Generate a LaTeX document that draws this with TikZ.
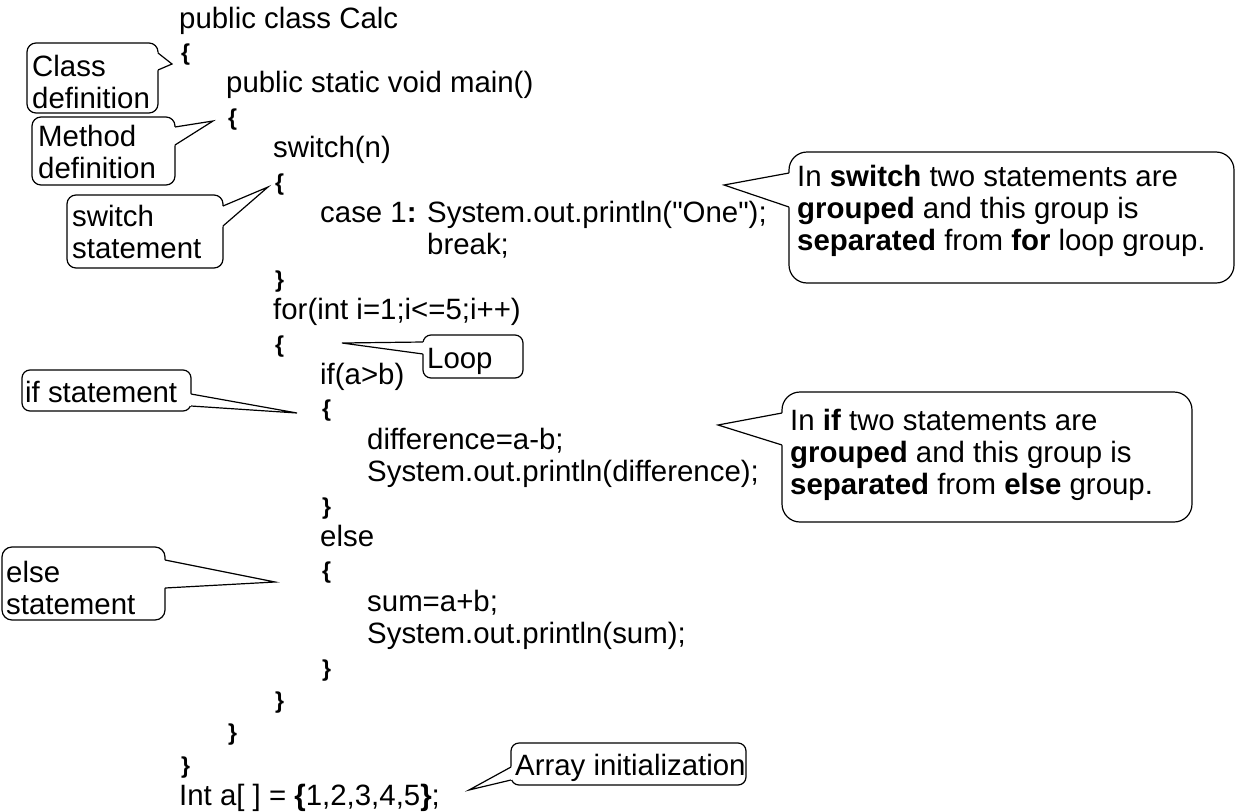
\documentclass[tikz,border=0pt]{standalone}
\usepackage{fontspec}
\setmainfont{Liberation Sans}[Ligatures=TeXOff]
\usetikzlibrary{calc}
\newcommand\codefont{\fontsize{29.4}{32.4}\selectfont}
\newcommand\bracefont{\fontsize{23}{32.4}\selectfont\bfseries}
\tikzset{
  code/.style={anchor=base west, inner sep=0pt, font=\codefont},
  brace/.style={anchor=base west, inner sep=0pt, font=\bracefont},
  note/.style={anchor=base west, inner sep=0pt, font=\codefont},
  bubbleline/.style={draw=black, line width=1.2pt},
}
% rounded box with a pointed tail: corner, corner, radius, tail base 1, tail base 2, tip
\newcommand\bubble[6]{%
  \draw[bubbleline, rounded corners=#3] #1 rectangle #2;
  \fill[white] ($#4!-1.6pt!#6$) -- #6 -- ($#5!-1.6pt!#6$) -- cycle;
  \draw[bubbleline, line join=miter] #4 -- #6 -- #5;
}
\begin{document}
\begin{tikzpicture}[x=1pt, y=-1pt]
\useasboundingbox (0,0) rectangle (1239,811);

% ---- program text ----
\node[code]  (l0)  at (179,28)    {public class Calc};
\node[brace] (l1)  at (181,60.4)  {\{};
\node[code]  (l2)  at (226,92.8)  {public static void main()};
\node[brace] (l3)  at (228,125.2) {\{};
\node[code]  (l4)  at (273,157.6) {switch(n)};
\node[brace] (l5)  at (275,190)   {\{};
\node[code]  (l6)  at (320,222.4) {case 1\textbf{:}};
\node[code]  (l6b) at (427,222.4) {System.out.println("One");};
\node[code]  (l7)  at (427,254.8) {break;};
\node[brace] (l8)  at (275,287.2) {\}};
\node[code]  (l9)  at (273,319.6) {for(int i=1;i<=5;i++)};
\node[brace] (l10) at (275,352)   {\{};
\node[code]  (l11) at (320,384.4) {if(a>b)};
\node[brace] (l12) at (322,416.8) {\{};
\node[code]  (l13) at (367,449.2) {difference=a-b;};
\node[code]  (l14) at (367,481.6) {System.out.println(difference);};
\node[brace] (l15) at (322,514)   {\}};
\node[code]  (l16) at (320,546.4) {else};
\node[brace] (l17) at (322,578.8) {\{};
\node[code]  (l18) at (367,611.2) {sum=a+b;};
\node[code]  (l19) at (367,643.6) {System.out.println(sum);};
\node[brace] (l20) at (322,676)   {\}};
\node[brace] (l21) at (275,708.4) {\}};
\node[brace] (l22) at (228,740.8) {\}};
\node[brace] (l23) at (181,773.2) {\}};
\node[code]  (l24) at (179,805.6) {Int a[ ] = \textbf{\{}1,2,3,4,5\textbf{\}};};

% ---- tips of the callout tails ----
\coordinate (tipclass)  at (172,64);
\coordinate (tipmethod) at (213,121);
\coordinate (tipswitch) at (268,187);
\coordinate (tipgroupA) at (724,185);
\coordinate (tiploop)   at (342,343);
\coordinate (tipif)     at (297,413);
\coordinate (tipgroupB) at (718,425);
\coordinate (tipelse)   at (275,582);
\coordinate (tiparray)  at (469,790);

% ---- callouts ----
\bubble{(27,43)}{(158,113)}{9}{(158,53)}{(158,70)}{(tipclass)}
\node[note] (cd1) at (32,76)  {Class};
\node[note] (cd2) at (32,108) {definition};

\bubble{(32,117)}{(175,185)}{9}{(175,127)}{(175,145)}{(tipmethod)}
\node[note] (md1) at (38,146) {Method};
\node[note] (md2) at (38,178) {definition};

\bubble{(67,195)}{(223,268)}{9}{(223,206)}{(223,226)}{(tipswitch)}
\node[note] (ss1) at (72,226) {switch};
\node[note] (ss2) at (72,258) {statement};

\bubble{(789,152)}{(1234,283)}{18}{(789,173)}{(789,207)}{(tipgroupA)}
\node[note] (ga1) at (797,186)   {In \textbf{switch} two statements are};
\node[note] (ga2) at (797,218.4) {\textbf{grouped} and this group is};
\node[note] (ga3) at (797,250.8) {\textbf{separated} from \textbf{for} loop group.};

\bubble{(423,335)}{(523,378)}{8}{(423,342)}{(423,354)}{(tiploop)}
\node[note] (lp) at (427,368) {Loop};

\bubble{(22,370)}{(191,411)}{8}{(191,394)}{(191,406)}{(tipif)}
\node[note] (is) at (25,402) {if statement};

\bubble{(782,392)}{(1192,522)}{18}{(782,413)}{(782,445)}{(tipgroupB)}
\node[note] (gb1) at (790,430)   {In \textbf{if} two statements are};
\node[note] (gb2) at (790,462.4) {\textbf{grouped} and this group is};
\node[note] (gb3) at (790,494.8) {\textbf{separated} from \textbf{else} group.};

\bubble{(2,547)}{(165,620)}{10}{(165,560)}{(165,588)}{(tipelse)}
\node[note] (es1) at (6,582) {else};
\node[note] (es2) at (6,614) {statement};

\bubble{(511,743)}{(746,785)}{8}{(511,767)}{(511,780)}{(tiparray)}
\node[note] (ai) at (515,775) {Array initialization};
\end{tikzpicture}
\end{document}
